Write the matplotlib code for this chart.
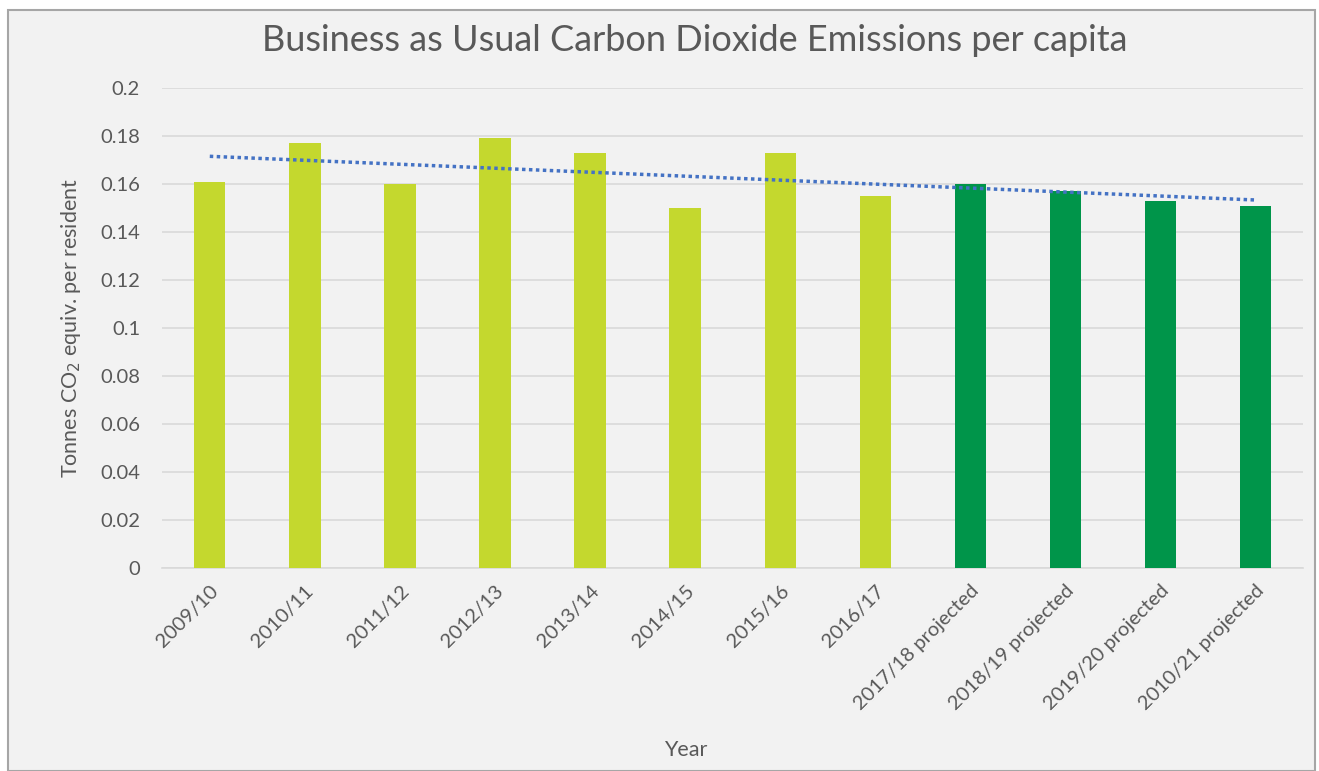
import numpy as np
import matplotlib.pyplot as plt
from matplotlib.patches import Rectangle

# data
years = ['2009/10', '2010/11', '2011/12', '2012/13', '2013/14', '2014/15',
         '2015/16', '2016/17', '2017/18 projected', '2018/19 projected',
         '2019/20 projected', '2010/21 projected']
emissions = [0.161, 0.177, 0.160, 0.179, 0.173, 0.150,
             0.173, 0.155, 0.160, 0.157, 0.153, 0.151]
projected = [False] * 8 + [True] * 4

plt.rcParams['font.family'] = ['Lato', 'DejaVu Sans']
text_col = '#595959'
bg = '#f2f2f2'

fig = plt.figure(figsize=(13.19, 7.71), dpi=100, facecolor='white')
fig.patches.append(Rectangle((0.006, 0.0), 0.991, 0.987, transform=fig.transFigure,
                             facecolor=bg, edgecolor='#a6a6a6', linewidth=1.5, zorder=-10))
ax = fig.add_axes([0.123, 0.263, 0.865, 0.623])
ax.set_facecolor(bg)

x = np.arange(len(years))
colors = ['#00954a' if p else '#c4d82e' for p in projected]
ax.bar(x, emissions, width=0.33, color=colors, zorder=3)

# linear trendline like Excel
k, b = np.polyfit(x, emissions, 1)
ax.plot(x, k * x + b, color='#4472c4', linestyle=(0, (1, 1)), linewidth=2.5, zorder=4)

ax.set_xlim(-0.5, len(years) - 0.5)
ax.set_ylim(0, 0.2)
ax.set_yticks(np.arange(0, 0.201, 0.02))
ax.set_yticklabels(['0', '0.02', '0.04', '0.06', '0.08', '0.1', '0.12', '0.14',
                    '0.16', '0.18', '0.2'])
ax.grid(axis='y', color='#d9d9d9', linewidth=1.2, zorder=0)
for s in ['top', 'right', 'left']:
    ax.spines[s].set_visible(False)
ax.spines['bottom'].set_color('#d9d9d9')
ax.spines['bottom'].set_linewidth(1.2)
ax.tick_params(length=0, colors=text_col, labelsize=14.5)
ax.tick_params(axis='y', pad=16)
ax.tick_params(axis='x', pad=10)
ax.set_xticks(x)
ax.set_xticklabels(years, rotation=45, ha='right', rotation_mode='anchor')

ax.set_ylabel('Tonnes CO$_2$ equiv. per resident', color=text_col, fontsize=15.5, labelpad=12)
fig.text(0.52, 0.02, 'Year', color=text_col, fontsize=15.5, ha='center')
fig.text(0.527, 0.947, 'Business as Usual Carbon Dioxide Emissions per capita',
         color=text_col, fontsize=26, ha='center', va='center')

fig.savefig('out.png', dpi=100, facecolor='white')
